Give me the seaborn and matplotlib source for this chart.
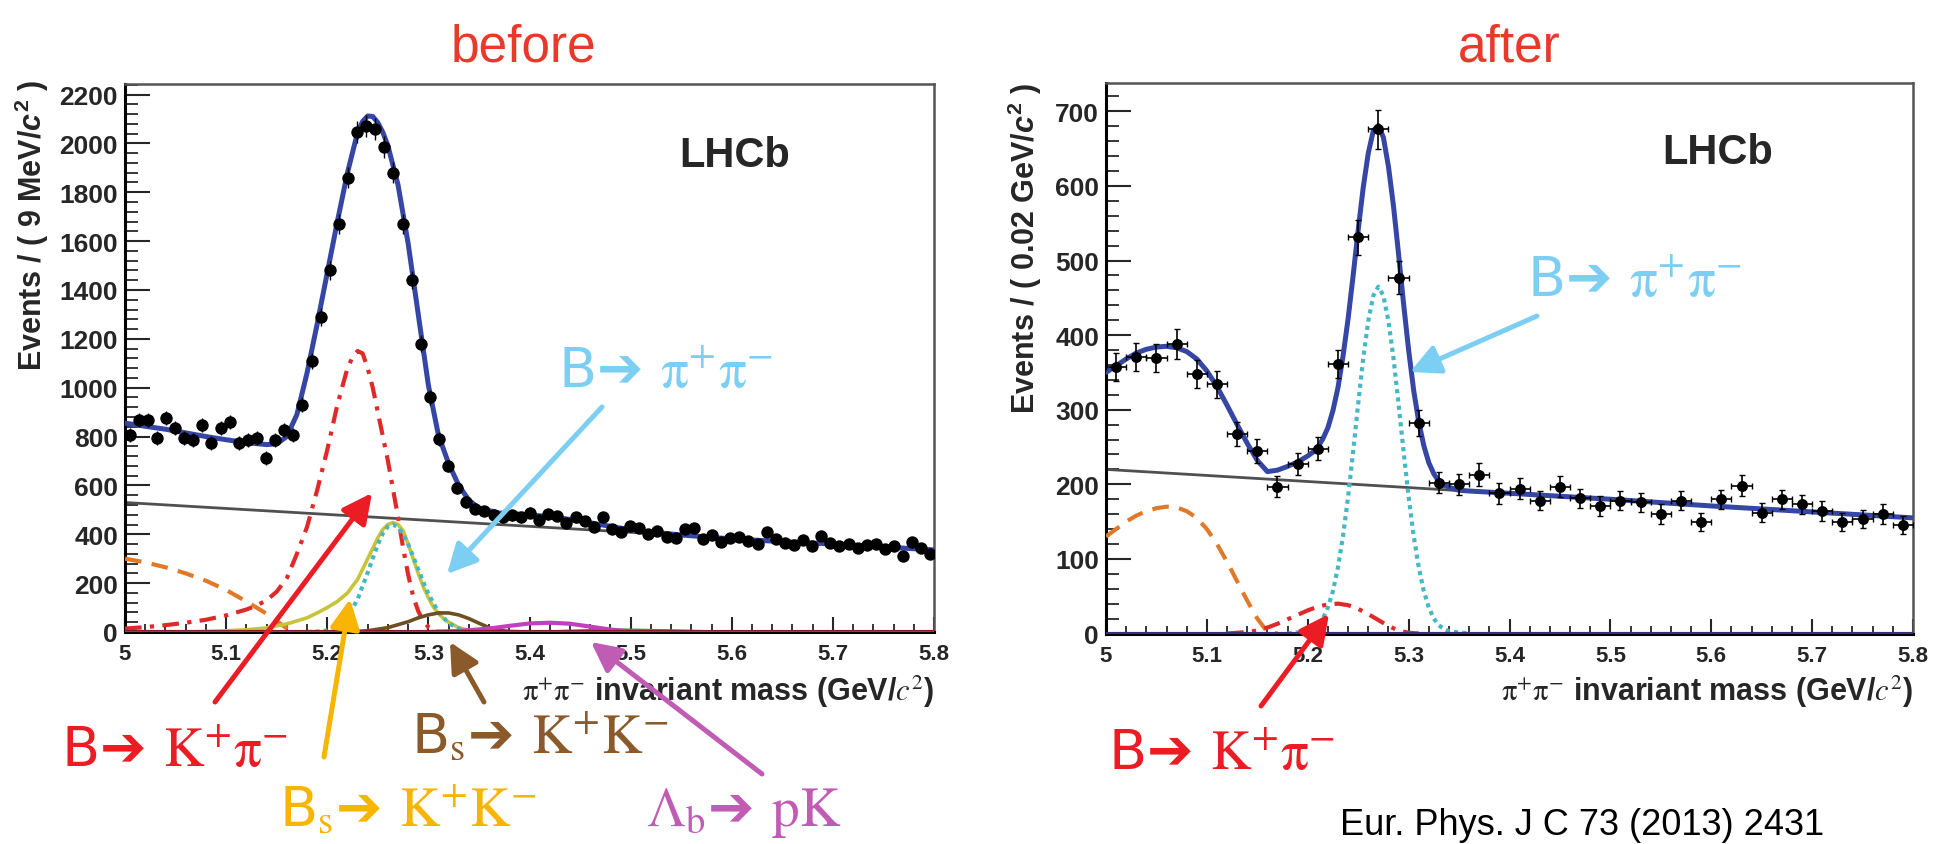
import numpy as np
import matplotlib
matplotlib.use("Agg")
import matplotlib.pyplot as plt
import seaborn as sns
from matplotlib.patches import FancyArrowPatch
from matplotlib.ticker import FixedLocator, MultipleLocator

# ---------------- "before" panel: 9 MeV bins ----------------
before_bin_low = 5.0
before_bin_width = 0.009
before_counts = [806, 868, 868, 794, 876, 835, 794, 786, 847, 774,
                 835, 860, 774, 786, 794, 712, 786, 827, 806, 930,
                 1110, 1290, 1480, 1670, 1860, 2045, 2072, 2058, 1985, 1880,
                 1670, 1440, 1180, 960, 790, 680, 590, 532, 505, 495,
                 480, 470, 478, 470, 488, 460, 482, 475, 445, 470,
                 455, 430, 470, 420, 410, 435, 425, 400, 415, 390,
                 385, 420, 425, 380, 395, 370, 385, 390, 372, 360,
                 408, 380, 365, 355, 375, 350, 394, 365, 350, 362,
                 345, 355, 360, 340, 350, 312, 368, 345, 318]
before_err = [28, 29, 29, 28, 30, 29, 28, 28, 29, 28,
              29, 29, 28, 28, 28, 27, 28, 29, 28, 30,
              33, 36, 38, 41, 43, 45, 46, 45, 45, 43,
              41, 38, 34, 31, 28, 26, 24, 23, 22, 22,
              22, 22, 22, 22, 22, 21, 22, 22, 21, 22,
              21, 21, 22, 20, 20, 21, 21, 20, 20, 20,
              20, 20, 21, 19, 20, 19, 20, 20, 19, 19,
              20, 19, 19, 19, 19, 19, 20, 19, 19, 19,
              19, 19, 19, 18, 19, 18, 19, 19, 18]

b_total_x = [5.00, 5.02, 5.04, 5.06, 5.08, 5.10, 5.12, 5.14,
             5.15, 5.16, 5.17, 5.18, 5.19, 5.20, 5.21, 5.22, 5.23,
             5.235, 5.24, 5.245, 5.25, 5.255, 5.26,
             5.27, 5.28, 5.29, 5.30, 5.31, 5.32, 5.33, 5.34, 5.35,
             5.37, 5.40, 5.43, 5.46, 5.50, 5.55, 5.60, 5.65, 5.70, 5.75, 5.80]
b_total_y = [855, 842, 830, 815, 800, 787, 775, 767,
             770, 800, 890, 1060, 1260, 1470, 1680, 1880, 2045,
             2090, 2112, 2110, 2085, 2045, 1990,
             1830, 1590, 1300, 1010, 805, 690, 600, 540, 507,
             487, 480, 467, 447, 418, 397, 381, 370, 360, 348, 336]
b_comb_x = [5.0, 5.8]
b_comb_y = [530, 335]
b_part_x = [5.00, 5.02, 5.04, 5.06, 5.08, 5.10, 5.12, 5.13, 5.14, 5.15, 5.16, 5.17]
b_part_y = [300, 285, 265, 240, 210, 172, 125, 100, 75, 45, 15, 0]
b_kpi_x = [5.00, 5.02, 5.04, 5.06, 5.08, 5.10, 5.12, 5.13, 5.14, 5.15, 5.16, 5.17,
           5.18, 5.19, 5.20, 5.21, 5.22, 5.225, 5.23, 5.235, 5.24, 5.245, 5.25,
           5.255, 5.26, 5.265, 5.27, 5.275, 5.28, 5.285, 5.29, 5.295, 5.30,
           5.305, 5.31, 5.32]
b_kpi_y = [14, 20, 28, 38, 50, 68, 92, 108, 130, 165, 220, 320,
           430, 580, 745, 930, 1080, 1125, 1150, 1140, 1080, 1000, 900,
           800, 700, 585, 470, 345, 235, 145, 85, 45, 20,
           6, 0, 0]
b_bskk_x = [5.06, 5.08, 5.10, 5.12, 5.14, 5.16, 5.18, 5.19, 5.20, 5.21, 5.22, 5.23,
            5.24, 5.25, 5.255, 5.26, 5.265, 5.27, 5.275, 5.28, 5.285, 5.29, 5.295,
            5.30, 5.305, 5.31, 5.315, 5.32, 5.33, 5.34, 5.35, 5.36]
b_bskk_y = [0, 2, 5, 9, 17, 33, 58, 78, 100, 125, 160, 215,
            300, 385, 420, 440, 448, 440, 415, 360, 300, 240, 185,
            140, 102, 76, 55, 40, 18, 6, 2, 0]
b_pipi_x = [5.18, 5.19, 5.20, 5.21, 5.22, 5.23, 5.24, 5.245, 5.25, 5.255, 5.26,
            5.265, 5.27, 5.275, 5.28, 5.285, 5.29, 5.295, 5.30, 5.31, 5.32,
            5.33, 5.34, 5.35]
b_pipi_y = [0, 2, 6, 21, 60, 134, 243, 302, 358, 404, 432,
            440, 428, 400, 359, 309, 256, 204, 156, 81, 36,
            14, 4, 0]
b_bs2_x = [5.22, 5.24, 5.26, 5.28, 5.29, 5.30, 5.31, 5.32, 5.33, 5.34, 5.35, 5.36, 5.37, 5.38, 5.40]
b_bs2_y = [0, 5, 18, 42, 58, 70, 78, 78, 70, 55, 36, 18, 7, 2, 0]
b_lb_x = [5.30, 5.33, 5.36, 5.38, 5.40, 5.42, 5.44, 5.46, 5.48, 5.50, 5.52]
b_lb_y = [0, 4, 14, 25, 35, 38, 34, 22, 10, 3, 0]
b_green_x = [5.42, 5.46, 5.50, 5.54, 5.58]
b_green_y = [0, 5, 7, 4, 0]

# ---------------- "after" panel: 20 MeV bins ----------------
after_bin_low = 5.0
after_bin_width = 0.02
after_counts = [357, 371, 369, 388, 348, 334, 268, 245, 197, 227,
                248, 361, 531, 676, 477, 282, 202, 200, 213, 188,
                194, 178, 197, 181, 171, 178, 176, 160, 178, 149,
                180, 198, 162, 180, 173, 164, 149, 153, 160, 145]
after_err = [19, 19, 19, 20, 19, 18, 16, 16, 14, 15,
             16, 19, 23, 26, 22, 17, 14, 14, 15, 14,
             14, 13, 14, 13, 13, 13, 13, 13, 13, 12,
             13, 14, 13, 13, 13, 13, 12, 12, 13, 12]

a_total_x = [5.00, 5.01, 5.02, 5.03, 5.04, 5.05, 5.06, 5.07, 5.08, 5.09, 5.10,
             5.11, 5.12, 5.13, 5.14, 5.15, 5.16, 5.17, 5.18, 5.19, 5.20,
             5.205, 5.21, 5.215, 5.22, 5.225, 5.23, 5.235, 5.24, 5.245, 5.25,
             5.255, 5.26, 5.265, 5.27, 5.275, 5.28, 5.285, 5.29, 5.295, 5.30,
             5.305, 5.31, 5.315, 5.32, 5.325, 5.33, 5.335, 5.34,
             5.35, 5.36, 5.40, 5.50, 5.60, 5.70, 5.80]
a_total_y = [350, 359, 368, 376, 381, 384, 385, 383, 378, 368, 352,
             331, 306, 280, 255, 232, 217, 219, 224, 230, 238,
             243, 250, 261, 276, 299, 330, 372, 422, 480, 541,
             598, 644, 674, 681, 665, 626, 573, 509, 442, 380,
             326, 284, 252, 229, 214, 204, 199, 196,
             192, 191, 188, 180, 171, 163, 155]
a_comb_x = [5.0, 5.8]
a_comb_y = [220, 155]
a_part_x = [5.00, 5.01, 5.02, 5.03, 5.04, 5.05, 5.06, 5.07, 5.08, 5.09, 5.10,
            5.11, 5.12, 5.13, 5.14, 5.15, 5.16, 5.17]
a_part_y = [130, 140, 150, 158, 164, 168, 170, 169, 164, 155, 140,
            120, 96, 70, 44, 20, 2, 0]
a_kpi_x = [5.12, 5.14, 5.15, 5.16, 5.17, 5.18, 5.19, 5.20, 5.21, 5.22, 5.23,
           5.24, 5.25, 5.26, 5.27, 5.28, 5.29, 5.30, 5.31]
a_kpi_y = [0, 2, 4, 8, 13, 19, 25, 31, 36, 39, 40,
           38, 33, 26, 18, 10, 4, 1, 0]
a_pipi_x = [5.18, 5.20, 5.205, 5.21, 5.215, 5.22, 5.225, 5.23, 5.235, 5.24, 5.245,
            5.25, 5.255, 5.26, 5.265, 5.27, 5.275, 5.28, 5.285, 5.29, 5.295,
            5.30, 5.305, 5.31, 5.315, 5.32, 5.325, 5.33, 5.335, 5.34, 5.36]
a_pipi_y = [0, 3, 6, 11, 20, 35, 57, 89, 131, 183, 244,
            308, 369, 419, 453, 465, 453, 419, 369, 308, 244,
            183, 131, 89, 57, 35, 20, 11, 6, 3, 0]

# axis text
xtick_vals = [5.0, 5.1, 5.2, 5.3, 5.4, 5.5, 5.6, 5.7, 5.8]
xtick_text = ["5", "5.1", "5.2", "5.3", "5.4", "5.5", "5.6", "5.7", "5.8"]
before_yticks = [0, 200, 400, 600, 800, 1000, 1200, 1400, 1600, 1800, 2000, 2200]
after_yticks = [0, 100, 200, 300, 400, 500, 600, 700]

# ---------------- styling ----------------
sns.set_style("ticks")
plt.rcParams['font.family'] = ['Liberation Sans', 'DejaVu Sans']
plt.rcParams['mathtext.fontset'] = 'custom'
plt.rcParams['mathtext.rm'] = 'Liberation Sans:bold'
plt.rcParams['mathtext.it'] = 'Liberation Sans:italic:bold'
plt.rcParams['mathtext.bf'] = 'Liberation Sans:bold'

W, H = 1951, 845
fig = plt.figure(figsize=(W / 100, H / 100), dpi=100)
fig.patch.set_facecolor('white')
ax1 = fig.add_axes([125 / W, (H - 633) / H, 809 / W, 548 / H])
ax2 = fig.add_axes([1106 / W, (H - 634.5) / H, 807 / W, 550.5 / H])

BLUE = '#3546a4'
GRAY = '#505050'
RED = '#e02a2a'
ORANGE = '#e07a2a'
CYAN = '#45b8c4'
OLIVE = '#c8c43a'
BROWN = '#6e5020'
MAG = '#c040c0'
GREEN = '#2e9a3a'


def style(ax, ylim, yticks, yminor):
    ax.set_xlim(5.0, 5.8)
    ax.set_ylim(*ylim)
    ax.xaxis.set_major_locator(FixedLocator(xtick_vals))
    ax.set_xticklabels(xtick_text, fontsize=16, fontweight='bold')
    ax.xaxis.set_minor_locator(MultipleLocator(0.02))
    ax.yaxis.set_major_locator(FixedLocator(yticks))
    ax.set_yticklabels([str(v) for v in yticks], fontsize=19, fontweight='bold')
    ax.yaxis.set_minor_locator(MultipleLocator(yminor))
    ax.tick_params(axis='x', which='major', direction='in', length=11, width=1.5, pad=8)
    ax.tick_params(axis='x', which='minor', direction='in', length=5.5, width=1.3)
    ax.tick_params(axis='y', which='major', direction='in', length=18, width=1.5, pad=5)
    ax.tick_params(axis='y', which='minor', direction='in', length=9, width=1.3)
    for s in ['left', 'bottom']:
        ax.spines[s].set_linewidth(2.2)
        ax.spines[s].set_color('black')
    for s in ['top', 'right']:
        ax.spines[s].set_linewidth(1.8)
        ax.spines[s].set_color('#555555')
    ax.set_facecolor('white')


def line(ax, x, y, color, lw, ls='-', z=3):
    sns.lineplot(x=x, y=y, ax=ax, color=color, linewidth=lw, linestyle=ls,
                 errorbar=None, legend=False, zorder=z)


XLABEL = r"$\mathrm{π}^{+}\mathrm{π}^{-}$ invariant mass (GeV/$c^{2}$)"

# ----- before panel -----
bc = before_bin_low + before_bin_width * (np.arange(len(before_counts)) + 0.5)
line(ax1, b_comb_x, b_comb_y, GRAY, 2.0, z=2)
line(ax1, b_part_x, b_part_y, ORANGE, 3.0, (0, (4, 2.5)))
line(ax1, b_kpi_x, b_kpi_y, RED, 3.0, (0, (4, 2, 1, 2)))
line(ax1, b_bskk_x, b_bskk_y, OLIVE, 2.6)
line(ax1, b_pipi_x, b_pipi_y, CYAN, 3.0, (0, (1, 1)))
line(ax1, b_bs2_x, b_bs2_y, BROWN, 2.6)
line(ax1, b_green_x, b_green_y, GREEN, 2.6)
line(ax1, b_lb_x, b_lb_y, MAG, 3.0)
line(ax1, [5.0, 5.8], [0, 0], '#8a1a2a', 3.0, z=3)
line(ax1, [5.0, 5.8], [0, 0], '#8a3a9a', 2.0, z=3)
line(ax1, b_total_x, b_total_y, BLUE, 3.6, z=4)
ax1.errorbar(bc, before_counts, yerr=before_err, xerr=before_bin_width / 2,
             fmt='none', ecolor='black', elinewidth=1.0, zorder=5)
sns.scatterplot(x=bc, y=before_counts, ax=ax1, color='black', s=80,
                linewidth=0, zorder=6, legend=False)
style(ax1, (0, 2243), before_yticks, 40)
ax1.set_ylabel("Events / ( 9 MeV/$c^{2}$ )", fontsize=22, fontweight='bold')
ax1.set_xlabel(XLABEL, fontsize=22, fontweight='bold', math_fontfamily='stix')

# ----- after panel -----
ac = after_bin_low + after_bin_width * (np.arange(len(after_counts)) + 0.5)
line(ax2, a_comb_x, a_comb_y, GRAY, 2.0, z=2)
line(ax2, a_part_x, a_part_y, ORANGE, 3.0, (0, (4, 2.5)))
line(ax2, a_kpi_x, a_kpi_y, RED, 3.0, (0, (4, 2, 1, 2)))
line(ax2, a_pipi_x, a_pipi_y, CYAN, 3.0, (0, (1, 1)))
line(ax2, [5.0, 5.8], [0, 0], '#3b2c7e', 3.0, z=3)
line(ax2, a_total_x, a_total_y, BLUE, 3.6, z=4)
ax2.errorbar(ac, after_counts, yerr=after_err, xerr=after_bin_width / 2,
             fmt='none', ecolor='black', elinewidth=1.2, capsize=2, capthick=1.0, zorder=5)
sns.scatterplot(x=ac, y=after_counts, ax=ax2, color='black', s=62,
                linewidth=0, zorder=6, legend=False)
style(ax2, (0, 738), after_yticks, 20)
ax2.set_ylabel("Events / ( 0.02 GeV/$c^{2}$ )", fontsize=22, fontweight='bold')
ax2.set_xlabel(XLABEL, fontsize=22, fontweight='bold', math_fontfamily='stix')

for ax, lx, ly, xx, xy in [(ax1, -0.115, 1.009, 1.0, -0.108),
                           (ax2, -0.1004, 1.002, 1.0, -0.104)]:
    ax.yaxis.set_label_coords(lx, ly)
    ax.yaxis.label.set_ha('right')
    ax.yaxis.label.set_va('center')
    ax.xaxis.set_label_coords(xx, xy)
    ax.xaxis.label.set_ha('right')
    ax.xaxis.label.set_va('center')


# ---------------- figure-level text and arrows ----------------
def ftext(x, y, s, **kw):
    fig.text(x / W, 1 - y / H, s, **kw)


def farrow(x0, y0, x1, y1, color):
    a = FancyArrowPatch((x0 / W, 1 - y0 / H), (x1 / W, 1 - y1 / H),
                        transform=fig.transFigure,
                        arrowstyle='-|>,head_length=0.9,head_width=0.45',
                        mutation_scale=20, lw=3.6, color=color,
                        shrinkA=0, shrinkB=0, zorder=10)
    fig.add_artist(a)


TRED = '#e8392b'
ftext(523, 62, "before", ha='center', va='baseline', fontsize=37, color=TRED,
      family=['Liberation Sans'])
ftext(1509, 62, "after", ha='center', va='baseline', fontsize=37, color=TRED,
      family=['Liberation Sans'])
ftext(679, 167, "LHCb", ha='left', va='baseline', fontsize=30, fontweight='bold')
ftext(1662, 164, "LHCb", ha='left', va='baseline', fontsize=30, fontweight='bold')

A_CYAN = '#7ccff2'
A_RED = '#ec1c24'
A_GOLD = '#f7b500'
A_BROWN = '#8b5a2b'
A_MAG = '#c05cb4'
akw = dict(ha='left', va='baseline', fontsize=40, family=['DejaVu Sans'],
           math_fontfamily='stix')

ftext(558, 388, r"B➔ $\mathrm{π}^{+}\mathrm{π}^{-}$", color=A_CYAN, **akw)
farrow(602, 408, 447, 575, A_CYAN)
ftext(1527, 297, r"B➔ $\mathrm{π}^{+}\mathrm{π}^{-}$", color=A_CYAN, **akw)
farrow(1537, 317, 1410, 373, A_CYAN)

ftext(61, 767, r"B➔ $\mathrm{K}^{+}\mathrm{π}^{-}$", color=A_RED, **akw)
farrow(215, 703, 372, 494, A_RED)
ftext(1108, 770, r"B➔ $\mathrm{K}^{+}\mathrm{π}^{-}$", color=A_RED, **akw)
farrow(1261, 707, 1329, 615, A_RED)

ftext(411, 753, r"B$_{\mathrm{s}}$➔ $\mathrm{K}^{+}\mathrm{K}^{-}$", color=A_BROWN, **akw)
farrow(484, 703, 450, 643, A_BROWN)
ftext(279, 826, r"B$_{\mathrm{s}}$➔ $\mathrm{K}^{+}\mathrm{K}^{-}$", color=A_GOLD, **akw)
farrow(324, 758, 350, 600, A_GOLD)
ftext(646, 826, r"$\mathrm{Λ}_{\mathrm{b}}$➔ $\mathrm{pK}$", color=A_MAG, **akw)
farrow(762, 775, 591, 643, A_MAG)

ftext(1340, 843, "Eur. Phys. J C 73 (2013) 2431", ha='left', va='bottom', fontsize=26,
      color='black', family=['Liberation Sans'])

fig.savefig("out.png", dpi=100, facecolor='white')
